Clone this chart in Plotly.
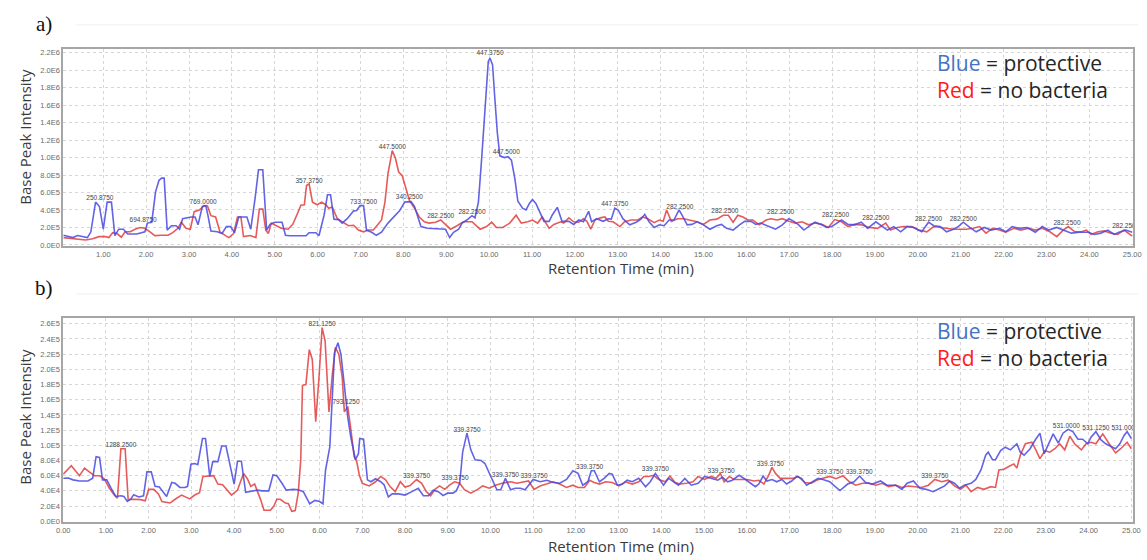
import numpy as np
import plotly.graph_objects as go

# ---------------- Panel a: base peak chromatograms (intensity x 1e5) ----------------
a_blue_time = [0.07, 0.29, 0.40, 0.63, 0.71, 0.82, 0.91, 1.00, 1.09, 1.19, 1.27, 1.36, 1.47, 1.57, 1.78, 1.90,
               1.97, 2.03, 2.13, 2.22, 2.30, 2.36, 2.42, 2.49, 2.59, 2.70, 2.78, 2.85, 3.05, 3.14, 3.21, 3.31,
               3.39, 3.44, 3.51, 3.66, 3.77, 3.87, 3.97, 4.06, 4.16, 4.35, 4.44, 4.54, 4.62, 4.72, 4.81, 4.89,
               5.00, 5.17, 5.25, 5.35, 5.73, 5.80, 5.96, 6.03, 6.15, 6.23, 6.30, 6.38, 6.49, 6.57, 6.69, 6.84,
               6.91, 6.99, 7.07, 7.14, 7.26, 7.37, 7.49, 7.64, 7.80, 7.91, 8.03, 8.18, 8.26, 8.41, 8.56, 8.72,
               8.87, 8.98, 9.08, 9.17, 9.29, 9.37, 9.48, 9.60, 9.67, 9.75, 9.83, 9.90, 9.98, 10.02, 10.08, 10.13,
               10.19, 10.25, 10.36, 10.44, 10.52, 10.60, 10.67, 10.78, 10.86, 10.94, 11.01, 11.09, 11.17, 11.28,
               11.40, 11.47, 11.59, 11.70, 11.86, 11.97, 12.09, 12.20, 12.32, 12.39, 12.51, 12.66, 12.78, 12.85,
               12.93, 13.01, 13.12, 13.28, 13.43, 13.54, 13.63, 13.73, 13.85, 13.97, 14.08, 14.20, 14.31, 14.43,
               14.50, 14.62, 14.73, 14.85, 15.00, 15.15, 15.31, 15.42, 15.54, 15.69, 15.84, 15.96, 16.11, 16.22,
               16.34, 16.53, 16.68, 16.84, 16.99, 17.11, 17.22, 17.34, 17.45, 17.60, 17.76, 17.87, 17.99, 18.06,
               18.22, 18.37, 18.52, 18.68, 18.83, 19.02, 19.14, 19.29, 19.44, 19.60, 19.75, 19.90, 20.09, 20.25,
               20.37, 20.52, 20.67, 20.83, 20.94, 21.06, 21.21, 21.36, 21.55, 21.71, 21.90, 22.05, 22.20, 22.36,
               22.55, 22.74, 22.90, 23.05, 23.24, 23.43, 23.58, 23.77, 23.97, 24.12, 24.27, 24.43, 24.58, 24.69,
               24.85, 25.00]
a_blue_int = [1.1, 0.84, 1.07, 0.84, 1.5, 4.9, 4.4, 1.8, 4.9, 4.9, 1.07, 1.8, 1.8, 1.25, 1.25, 1.4,
              1.5, 2.5, 2.6, 6.1, 7.4, 7.65, 7.65, 1.7, 2.2, 2.2, 1.8, 3.0, 3.2, 3.2, 2.3, 4.4,
              4.5, 3.4, 1.6, 1.5, 1.3, 2.1, 2.1, 1.4, 3.2, 3.2, 1.8, 5.3, 8.6, 8.6, 1.7, 2.35,
              2.6, 2.6, 1.1, 1.05, 1.05, 1.4, 1.4, 1.05, 3.4, 5.75, 5.75, 2.95, 2.9, 2.5, 3.0, 3.9,
              3.95, 4.5, 4.5, 1.7, 1.45, 1.1, 1.45, 2.5, 3.4, 3.9, 4.9, 4.95, 4.4, 2.1, 1.9, 1.85,
              1.8, 1.8, 0.84, 1.45, 1.8, 2.5, 2.85, 3.35, 3.1, 4.9, 10.2, 15.9, 21.0, 21.4, 20.6, 17.0,
              12.9, 10.2, 10.0, 10.1, 9.7, 7.6, 5.0, 4.2, 4.0, 4.75, 5.2, 4.75, 3.8, 2.7,
              2.7, 3.4, 4.3, 2.7, 2.7, 2.35, 2.85, 2.65, 3.85, 2.65, 3.0, 2.7, 3.0, 2.95,
              4.2, 4.0, 3.0, 2.3, 2.6, 2.95, 3.5, 2.65, 2.0, 2.3, 2.2, 2.85, 2.85, 4.0,
              3.4, 2.3, 2.35, 2.65, 2.3, 1.8, 2.2, 2.35, 1.9, 1.7, 2.3, 2.7, 2.7, 2.35,
              2.5, 2.1, 1.8, 2.3, 3.0, 2.7, 2.3, 1.7, 2.1, 2.6, 2.3, 2.0, 2.1, 2.3,
              2.85, 2.35, 2.3, 2.6, 1.9, 2.65, 2.2, 1.7, 2.1, 1.5, 2.1, 2.0, 1.5, 2.6,
              2.2, 2.1, 1.5, 1.8, 2.1, 2.6, 2.0, 1.5, 2.0, 1.7, 1.9, 1.5, 2.1, 1.9,
              2.0, 1.45, 2.1, 1.7, 2.0, 1.6, 1.35, 1.45, 1.45, 1.2, 1.35, 1.7, 1.2, 1.45,
              1.7, 1.45]

a_red_time = [0.07, 0.29, 0.59, 0.75, 0.90, 1.05, 1.13, 1.22, 1.32, 1.42, 1.51, 1.63, 1.74, 1.86, 1.97, 2.09,
              2.20, 2.36, 2.51, 2.62, 2.74, 2.82, 2.93, 3.03, 3.12, 3.24, 3.35, 3.43, 3.51, 3.62, 3.72, 3.85,
              3.93, 4.04, 4.13, 4.21, 4.27, 4.43, 4.56, 4.64, 4.72, 4.79, 4.85, 4.92, 5.00, 5.15, 5.31, 5.42,
              5.53, 5.61, 5.69, 5.74, 5.80, 5.88, 5.99, 6.09, 6.19, 6.26, 6.34, 6.46, 6.57, 6.72, 6.84, 6.95,
              7.07, 7.18, 7.30, 7.41, 7.49, 7.57, 7.64, 7.74, 7.81, 7.89, 7.97, 8.04, 8.14, 8.26, 8.37, 8.49,
              8.60, 8.75, 8.87, 8.98, 9.10, 9.25, 9.40, 9.60, 9.79, 9.94, 10.06, 10.17, 10.32, 10.48, 10.63, 10.75,
              10.90, 11.01, 11.13, 11.24, 11.40, 11.51, 11.67, 11.74, 11.86, 11.97, 12.09, 12.20, 12.28, 12.37,
              12.47, 12.59, 12.70, 12.78, 12.89, 13.05, 13.16, 13.31, 13.47, 13.58, 13.70, 13.85, 13.97, 14.06,
              14.14, 14.25, 14.39, 14.54, 14.69, 14.85, 15.00, 15.15, 15.31, 15.46, 15.58, 15.69, 15.80, 15.92,
              16.03, 16.15, 16.30, 16.46, 16.57, 16.72, 16.84, 16.99, 17.14, 17.30, 17.45, 17.60, 17.76, 17.91,
              18.06, 18.22, 18.37, 18.52, 18.68, 18.87, 19.06, 19.25, 19.36, 19.52, 19.67, 19.86, 20.02, 20.21,
              20.37, 20.52, 20.67, 20.83, 20.98, 21.13, 21.29, 21.44, 21.59, 21.74, 21.90, 22.05, 22.24, 22.40,
              22.59, 22.74, 22.90, 23.08, 23.24, 23.39, 23.51, 23.66, 23.82, 23.93, 24.04, 24.20, 24.35, 24.50,
              24.66, 24.81, 25.00]
a_red_int = [0.84, 0.7, 0.57, 0.7, 0.95, 0.95, 0.84, 1.4, 1.3, 0.88, 1.5, 1.5, 1.8, 2.0, 1.9, 1.5,
             1.07, 1.1, 1.1, 1.4, 1.9, 2.6, 1.9, 1.8, 3.8, 4.0, 4.5, 4.45, 3.35, 3.2, 1.5, 1.07,
             0.84, 1.3, 3.2, 3.2, 0.95, 1.07, 0.84, 4.1, 4.1, 1.7, 1.3, 2.5, 2.3, 1.9, 1.8, 2.35,
             3.6, 4.55, 4.6, 6.8, 7.0, 4.9, 4.6, 4.9, 4.6, 4.2, 4.35, 3.0, 2.65, 2.2, 2.25, 1.7,
             1.5, 1.7, 1.7, 2.3, 2.85, 4.9, 8.15, 10.8, 10.0, 8.35, 7.95, 6.8, 5.1, 4.2, 3.2, 2.65,
             2.5, 2.6, 2.85, 2.35, 1.8, 2.2, 2.65, 2.65, 1.8, 2.1, 2.6, 2.0, 2.0, 2.5, 3.4, 2.5,
             2.65, 2.85, 2.5, 3.2, 1.9, 2.35, 2.65, 2.5, 3.1, 2.65, 2.6, 3.0, 2.7, 1.8,
             2.85, 3.1, 3.2, 2.7, 2.65, 2.1, 2.65, 2.85, 2.85, 3.2, 3.0, 2.55, 2.85, 2.7,
             4.0, 2.7, 3.0, 3.0, 2.85, 2.65, 2.35, 2.85, 2.95, 3.4, 3.4, 2.6, 3.4, 3.2,
             2.85, 2.85, 2.3, 2.85, 3.0, 2.85, 3.0, 2.7, 2.5, 2.65, 2.3, 2.5, 2.35, 2.0,
             2.9, 2.65, 2.1, 2.35, 2.3, 2.0, 1.9, 2.5, 1.7, 2.0, 2.1, 2.1, 1.7, 1.5,
             2.1, 2.0, 1.85, 1.8, 1.8, 1.8, 1.9, 2.1, 1.35, 1.9, 1.7, 1.45, 1.9, 1.7,
             1.9, 1.7, 1.9, 1.5, 0.95, 1.7, 2.1, 1.5, 1.5, 1.7, 1.2, 1.5, 1.6, 1.35,
             1.2, 1.7, 1.0]

# Peak annotations (m/z) for panel a: retention time, intensity (x 1e5), label
a_peak_time = [0.92, 1.93, 3.33, 5.80, 7.07, 7.74, 8.14, 8.87, 9.60, 10.02, 10.40, 12.93, 14.45, 15.50,
               16.80, 18.08, 19.02, 20.25, 21.06, 23.48, 24.85]
a_peak_int = [4.95, 2.45, 4.55, 6.9, 4.55, 10.8, 5.05, 2.9, 3.3, 21.5, 10.2, 4.25, 3.95, 3.5,
              3.3, 3.0, 2.65, 2.6, 2.6, 2.1, 1.8]
a_peak_text = ["250.8750", "694.8750", "769.0000", "357.3750", "733.7500", "447.5000", "340.2500",
               "282.2500", "282.2500", "447.3750", "447.5000", "447.3750", "282.2500", "282.2500",
               "282.2500", "282.2500", "282.2500", "282.2500", "282.2500", "282.2500", "282.2500"]

# ---------------- Panel b: base peak chromatograms (intensity x 1e4) ----------------
b_blue_time = [0.00, 0.12, 0.23, 0.38, 0.58, 0.69, 0.77, 0.85, 0.92, 1.02, 1.12, 1.23, 1.35, 1.42, 1.50, 1.58,
               1.65, 1.77, 1.88, 1.96, 2.06, 2.15, 2.25, 2.35, 2.42, 2.54, 2.62, 2.73, 2.85, 2.91, 2.99, 3.08,
               3.15, 3.26, 3.33, 3.43, 3.50, 3.62, 3.71, 3.81, 3.89, 4.00, 4.08, 4.17, 4.27, 4.43, 4.54, 4.66,
               4.81, 4.91, 5.00, 5.12, 5.22, 5.39, 5.50, 5.62, 5.77, 5.89, 6.00, 6.08, 6.14, 6.24, 6.30, 6.35,
               6.43, 6.50, 6.58, 6.66, 6.73, 6.84, 6.91, 6.94, 7.03, 7.12, 7.20, 7.31, 7.43, 7.51, 7.61, 7.70,
               7.85, 8.00, 8.16, 8.31, 8.43, 8.55, 8.66, 8.78, 8.89, 9.00, 9.12, 9.20, 9.28, 9.35, 9.45, 9.54,
               9.64, 9.78, 9.87, 9.97, 10.05, 10.15, 10.24, 10.35, 10.47, 10.58, 10.70, 10.81, 11.00, 11.16, 11.32,
               11.47, 11.62, 11.78, 11.93, 12.05, 12.16, 12.28, 12.36, 12.43, 12.55, 12.66, 12.78, 12.85, 12.97,
               13.09, 13.20, 13.32, 13.47, 13.63, 13.74, 13.86, 13.94, 14.05, 14.17, 14.28, 14.40, 14.55, 14.70,
               14.86, 15.01, 15.16, 15.32, 15.43, 15.55, 15.66, 15.82, 15.97, 16.09, 16.20, 16.28, 16.38, 16.47,
               16.59, 16.70, 16.82, 16.93, 17.05, 17.17, 17.28, 17.40, 17.51, 17.67, 17.78, 17.94, 18.05, 18.18,
               18.36, 18.51, 18.64, 18.78, 18.94, 19.13, 19.28, 19.48, 19.63, 19.75, 19.90, 20.05, 20.20, 20.36,
               20.52, 20.63, 20.75, 20.86, 20.98, 21.09, 21.25, 21.36, 21.48, 21.59, 21.65, 21.75, 21.82, 21.94,
               22.05, 22.17, 22.32, 22.40, 22.49, 22.63, 22.75, 22.86, 22.96, 23.06, 23.17, 23.29, 23.40, 23.52,
               23.63, 23.75, 23.86, 23.98, 24.06, 24.17, 24.29, 24.40, 24.52, 24.63, 24.73, 24.83, 24.90, 25.00]
b_blue_int = [5.66, 5.7, 5.45, 5.3, 5.3, 5.66, 8.5, 8.4, 5.45, 5.45, 4.35, 3.27, 3.35, 3.27, 2.6, 2.9,
              3.5, 3.2, 3.35, 6.5, 6.5, 4.6, 4.5, 3.7, 3.27, 5.1, 5.0, 4.45, 4.45, 4.6, 7.5, 7.6,
              7.45, 10.9, 10.9, 5.9, 7.85, 7.85, 9.9, 9.9, 7.6, 4.9, 7.9, 7.9, 3.8, 4.0, 4.1, 4.0,
              4.0, 6.1, 6.0, 5.0, 4.1, 4.2, 4.15, 3.9, 2.3, 2.75, 2.6, 2.3, 6.75, 9.8, 17.0, 22.2,
              23.5, 22.0, 17.9, 13.7, 11.1, 8.1, 8.9, 10.9, 10.8, 5.45, 5.2, 5.6, 5.2, 4.8, 3.2, 3.6,
              3.6, 3.45, 3.9, 4.35, 3.35, 3.35, 4.1, 3.9, 3.4, 3.7, 3.7, 4.0, 5.0, 9.15, 11.6, 9.4,
              8.1, 8.0, 7.6, 6.3, 5.5, 4.15, 4.15, 5.65, 4.15, 4.35, 4.35, 4.15, 5.5, 5.2, 5.4,
              5.1, 5.0, 5.5, 6.65, 6.3, 4.75, 5.2, 6.65, 6.65, 5.2, 5.65, 6.3, 6.2, 4.75,
              4.9, 5.4, 5.2, 5.65, 4.55, 5.2, 6.3, 5.65, 4.75, 5.65, 5.2, 4.75, 5.65, 4.75,
              5.0, 5.9, 5.65, 5.4, 5.8, 5.2, 5.4, 6.05, 5.5, 5.0, 4.55, 4.9, 5.95, 5.3,
              5.5, 5.2, 5.5, 4.9, 5.3, 5.9, 5.65, 4.75, 5.1, 5.65, 5.5, 5.2, 4.65, 4.05,
              4.9, 5.2, 5.95, 5.1, 4.9, 5.3, 4.75, 4.75, 4.2, 5.0, 5.3, 4.35, 4.2, 3.9,
              4.35, 4.65, 5.3, 5.0, 4.35, 4.75, 5.0, 5.5, 6.75, 8.7, 9.1, 8.1, 8.1, 9.3,
              9.75, 9.4, 10.2, 9.1, 8.7, 9.55, 10.7, 11.6, 8.9, 10.2, 11.5, 10.3, 11.6, 12.1,
              11.8, 10.8, 10.8, 10.2, 11.1, 11.8, 10.7, 10.2, 9.9, 9.55, 10.2, 11.3, 11.8, 10.9]

b_red_time = [0.00, 0.19, 0.38, 0.50, 0.61, 0.73, 0.85, 0.96, 1.08, 1.19, 1.27, 1.35, 1.45, 1.52, 1.65, 1.81,
              1.92, 2.00, 2.12, 2.23, 2.31, 2.50, 2.62, 2.77, 2.96, 3.08, 3.19, 3.27, 3.52, 3.62, 3.73, 3.85,
              3.94, 4.08, 4.22, 4.31, 4.39, 4.48, 4.54, 4.62, 4.70, 4.85, 4.93, 5.00, 5.08, 5.20, 5.27, 5.35,
              5.43, 5.50, 5.56, 5.60, 5.68, 5.76, 5.83, 5.91, 5.99, 6.06, 6.13, 6.22, 6.30, 6.37, 6.45, 6.53,
              6.58, 6.66, 6.73, 6.81, 6.87, 6.93, 7.00, 7.16, 7.31, 7.43, 7.54, 7.66, 7.77, 7.89, 8.00, 8.12,
              8.27, 8.39, 8.50, 8.60, 8.70, 8.81, 8.93, 9.04, 9.16, 9.28, 9.39, 9.54, 9.70, 9.82, 9.97, 10.12,
              10.27, 10.47, 10.62, 10.78, 10.89, 11.02, 11.16, 11.31, 11.47, 11.62, 11.78, 11.93, 12.05, 12.20,
              12.32, 12.43, 12.55, 12.70, 12.85, 13.01, 13.16, 13.32, 13.47, 13.59, 13.70, 13.82, 13.94, 14.09,
              14.20, 14.32, 14.44, 14.59, 14.74, 14.86, 15.01, 15.16, 15.28, 15.38, 15.47, 15.59, 15.70, 15.86,
              16.01, 16.17, 16.28, 16.40, 16.51, 16.59, 16.67, 16.78, 16.93, 17.09, 17.20, 17.36, 17.51, 17.63,
              17.78, 17.94, 18.09, 18.25, 18.40, 18.55, 18.71, 18.86, 19.02, 19.17, 19.32, 19.48, 19.63, 19.78,
              19.94, 20.09, 20.25, 20.40, 20.56, 20.71, 20.86, 21.00, 21.13, 21.25, 21.40, 21.55, 21.71, 21.82,
              21.90, 22.02, 22.13, 22.25, 22.32, 22.40, 22.52, 22.67, 22.75, 22.86, 22.98, 23.09, 23.21, 23.32,
              23.44, 23.56, 23.67, 23.83, 23.94, 24.06, 24.17, 24.33, 24.48, 24.63, 24.75, 24.90, 25.00]
b_red_int = [6.2, 7.3, 6.0, 7.0, 6.5, 6.0, 6.0, 5.6, 4.35, 3.5, 3.05, 9.55, 9.55, 2.85, 2.9, 2.85,
             2.7, 4.2, 4.2, 3.6, 2.6, 2.4, 2.9, 3.45, 2.95, 3.45, 3.75, 5.9, 6.0, 4.9, 4.8, 4.1,
             3.45, 4.1, 6.3, 5.6, 4.6, 4.9, 4.1, 2.85, 1.45, 1.45, 2.0, 2.9, 2.9, 2.4, 2.3, 1.3,
             1.4, 3.7, 8.1, 17.9, 18.0, 22.6, 21.3, 13.1, 19.2, 25.5, 23.75, 14.4, 19.4, 22.9, 22.0, 19.0,
             14.4, 15.1, 12.2, 8.5, 7.85, 6.1, 5.0, 4.65, 5.2, 5.9, 5.5, 4.5, 3.9, 5.2, 4.5, 4.7,
             5.5, 5.0, 3.9, 3.35, 4.2, 4.65, 4.2, 4.75, 5.2, 5.0, 4.15, 3.7, 4.2, 4.65, 4.35, 4.75,
             5.0, 5.2, 5.0, 5.2, 5.3, 4.2, 4.65, 4.9, 5.2, 4.9, 4.45, 4.75, 4.45, 4.45,
             5.4, 5.1, 4.9, 5.2, 5.1, 4.65, 5.2, 4.9, 5.2, 5.9, 5.9, 6.05, 5.5, 5.2,
             5.95, 5.1, 4.9, 5.0, 5.2, 5.9, 5.5, 5.9, 5.65, 6.3, 5.2, 5.9, 5.5, 5.5,
             5.5, 5.3, 5.4, 4.9, 6.05, 7.1, 6.3, 5.65, 5.65, 5.65, 5.9, 5.1, 5.0, 5.4,
             5.65, 5.9, 5.6, 6.0, 5.2, 4.75, 5.0, 5.0, 4.75, 5.0, 4.55, 4.75, 4.45, 4.65,
             4.55, 4.45, 4.75, 5.5, 5.2, 5.4, 4.65, 4.2, 4.75, 3.9, 4.45, 4.2, 4.55, 4.45,
             6.75, 6.85, 7.2, 7.55, 7.0, 8.7, 10.2, 10.4, 9.55, 8.25, 9.3, 9.1, 9.55, 10.2,
             9.4, 11.2, 10.2, 9.4, 10.2, 10.4, 10.2, 11.5, 10.2, 9.0, 9.55, 10.4, 9.55]

# Peak annotations (m/z) for panel b: retention time, intensity (x 1e4), label
b_peak_time = [1.35, 6.06, 6.62, 8.27, 9.17, 9.45, 10.35, 11.02, 12.32, 13.86, 15.40, 16.55, 17.94,
               18.63, 20.40, 23.48, 24.17, 24.85]
b_peak_int = [9.6, 25.5, 15.25, 5.45, 5.2, 11.6, 5.65, 5.5, 6.6, 6.4, 6.1, 7.05, 5.95,
              5.95, 5.5, 12.05, 11.85, 11.85]
b_peak_text = ["1288.2500", "821.1250", "793.1250", "339.3750", "339.3750", "339.3750", "339.3750",
               "339.3750", "339.3750", "339.3750", "339.3750", "339.3750", "339.3750", "339.3750",
               "339.3750", "531.0000", "531.1250", "531.0000"]

# ---------------- Axis ticks ----------------
x_ticks = list(range(0, 26))
x_ticktext = [f"{v:.2f}" for v in x_ticks]
a_y_ticks = [0, 2e5, 4e5, 6e5, 8e5, 1.0e6, 1.2e6, 1.4e6, 1.6e6, 1.8e6, 2.0e6, 2.2e6]
a_y_ticktext = ["0.0E0", "2.0E5", "4.0E5", "6.0E5", "8.0E5", "1.0E6", "1.2E6", "1.4E6", "1.6E6",
                "1.8E6", "2.0E6", "2.2E6"]
b_y_ticks = [0, 2e4, 4e4, 6e4, 8e4, 1.0e5, 1.2e5, 1.4e5, 1.6e5, 1.8e5, 2.0e5, 2.2e5, 2.4e5, 2.6e5]
b_y_ticktext = ["0.0E0", "2.0E4", "4.0E4", "6.0E4", "8.0E4", "1.0E5", "1.2E5", "1.4E5", "1.6E5",
                "1.8E5", "2.0E5", "2.2E5", "2.4E5", "2.6E5"]

BLUE = "rgba(72,72,225,0.85)"
RED = "rgba(225,62,62,0.85)"
W, H = 1147, 560


def px_x(p):
    return p / W


def px_y(p):
    return 1 - p / H


fig = go.Figure()

panels = [
    ("x", "y", a_red_time, a_red_int, a_blue_time, a_blue_int, 1e5,
     a_peak_time, a_peak_int, a_peak_text),
    ("x2", "y2", b_red_time, b_red_int, b_blue_time, b_blue_int, 1e4,
     b_peak_time, b_peak_int, b_peak_text),
]
for xa, ya, rt, ri, bt, bi, scale, pt, pi, ptxt in panels:
    fig.add_trace(go.Scatter(x=rt, y=np.array(ri) * scale, mode="lines", xaxis=xa, yaxis=ya,
                             line=dict(color=RED, width=1.6), hoverinfo="skip", showlegend=False))
    fig.add_trace(go.Scatter(x=bt, y=np.array(bi) * scale, mode="lines", xaxis=xa, yaxis=ya,
                             line=dict(color=BLUE, width=1.6), hoverinfo="skip", showlegend=False))
    fig.add_trace(go.Scatter(x=pt, y=np.array(pi) * scale, mode="text", text=ptxt,
                             textposition="top center", cliponaxis=True, xaxis=xa, yaxis=ya,
                             textfont=dict(family="Liberation Sans", size=6.5, color="#444444"),
                             hoverinfo="skip", showlegend=False))

axis_common = dict(
    showgrid=True, gridcolor="#d6d6d6", griddash="dot", gridwidth=1,
    showline=True, mirror=True, linecolor="#a6a6a6", linewidth=1.5,
    zeroline=False, ticks="", tickfont=dict(family="Liberation Sans", size=7.5, color="#6a6a6a"),
    fixedrange=True, ticklabeloverflow="allow",
)

fig.update_layout(
    width=W, height=H,
    margin=dict(l=0, r=0, t=0, b=0),
    paper_bgcolor="white", plot_bgcolor="white",
    xaxis=dict(domain=[px_x(57), px_x(1142)], range=[0.065, 25.02], anchor="y",
               tickvals=x_ticks, ticktext=x_ticktext, **axis_common),
    yaxis=dict(domain=[px_y(248), px_y(49)], range=[-1.5e4, 2.247e6], anchor="x",
               tickvals=a_y_ticks, ticktext=a_y_ticktext, **axis_common),
    xaxis2=dict(domain=[px_x(57), px_x(1142)], range=[0, 25.04], anchor="y2",
                tickvals=x_ticks, ticktext=x_ticktext, **axis_common),
    yaxis2=dict(domain=[px_y(526), px_y(320)], range=[-1300, 2.68e5], anchor="x2",
                tickvals=b_y_ticks, ticktext=b_y_ticktext, **axis_common),
)

annotations = []
title_font = dict(family="Open Sans", size=15, color="#3a3a3a")
key_text = ('<span style="color:#4472C4">Blue</span> = protective<br>'
            '<span style="color:#FF1a1a">Red</span> = no bacteria')
for panel_label, ly, ycenter, xt_y, key_y in [("a)", 24, 138, 270, 77), ("b)", 290, 420, 550, 347)]:
    annotations.append(dict(text=panel_label, x=px_x(38), y=px_y(ly), xref="paper", yref="paper",
                            showarrow=False, xanchor="center", yanchor="middle",
                            font=dict(family="Liberation Serif", size=21, color="#111111")))
    annotations.append(dict(text="Base Peak Intensity", x=px_x(18), y=px_y(ycenter), xref="paper",
                            yref="paper", showarrow=False, textangle=-90, xanchor="center",
                            yanchor="middle", font=title_font))
    annotations.append(dict(text="Retention Time (min)", x=px_x(623), y=px_y(xt_y), xref="paper",
                            yref="paper", showarrow=False, xanchor="center", yanchor="middle",
                            font=title_font))
    annotations.append(dict(text=key_text, x=px_x(941), y=px_y(key_y), xref="paper", yref="paper",
                            showarrow=False, xanchor="left", yanchor="middle", align="left",
                            font=dict(family="Open Sans", size=21, color="#262626")))
fig.update_layout(annotations=annotations)

# faint frame lines above each panel
shapes = []
for yy in (25, 296):
    shapes.append(dict(type="line", xref="paper", yref="paper", x0=px_x(70), x1=1.0,
                       y0=px_y(yy), y1=px_y(yy), line=dict(color="#f0f0f0", width=1)))
fig.update_layout(shapes=shapes)

fig.write_html("out.html")
